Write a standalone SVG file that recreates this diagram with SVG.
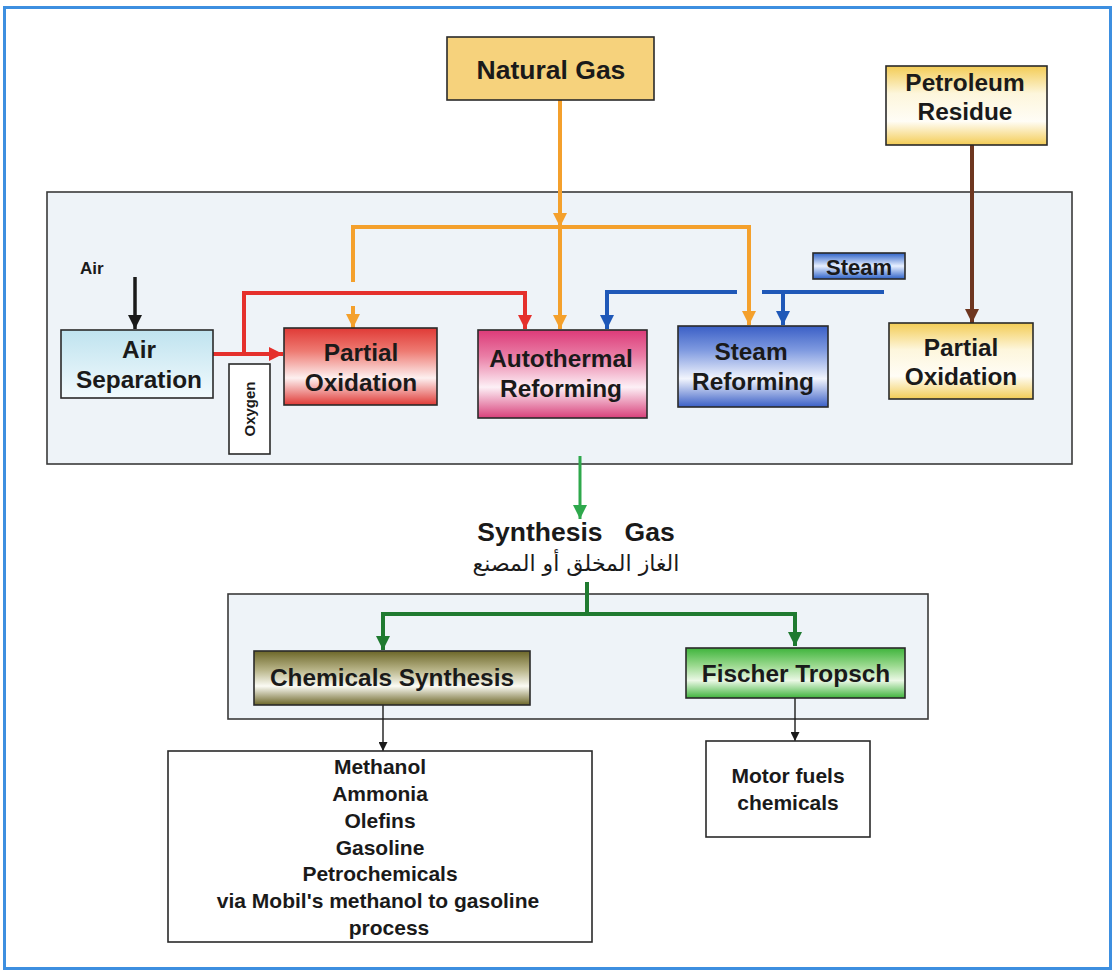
<svg xmlns="http://www.w3.org/2000/svg" width="1114" height="972" viewBox="0 0 1114 972">
  <defs>
    <style>
      text { font-family: "Liberation Sans", Arial, sans-serif; font-weight: bold; fill: #1a1a1a; }
      .lbl { font-size: 24.4px; text-anchor: middle; }
      .big { font-size: 26.5px; text-anchor: middle; }
      .lst { font-size: 21px; text-anchor: middle; }
      .box { stroke: #2a2a2a; stroke-width: 1.6; }
      .panel { fill: #eef3f8; stroke: #3a3a3a; stroke-width: 1.6; }
      .flow { fill: none; stroke-linejoin: miter; }
      .org { stroke: #f4a02c; stroke-width: 4; }
      .red { stroke: #e5302c; stroke-width: 4; }
      .blu { stroke: #1f58b8; stroke-width: 4; }
      .brn { stroke: #6e3620; stroke-width: 4; }
      .grn { stroke: #2ea84c; stroke-width: 3; }
      .dgr { stroke: #1f7a30; stroke-width: 4; }
      .blk { stroke: #1a1a1a; stroke-width: 3.5; }
      .thin { stroke: #1a1a1a; stroke-width: 1.4; }
    </style>
    <marker id="aOrg" markerUnits="userSpaceOnUse" markerWidth="14" markerHeight="14" refX="14" refY="7" orient="auto"><path d="M0,0 L14,7 L0,14 z" fill="#f4a02c"/></marker>
    <marker id="aRed" markerUnits="userSpaceOnUse" markerWidth="14" markerHeight="14" refX="14" refY="7" orient="auto"><path d="M0,0 L14,7 L0,14 z" fill="#e5302c"/></marker>
    <marker id="aBlu" markerUnits="userSpaceOnUse" markerWidth="14" markerHeight="14" refX="14" refY="7" orient="auto"><path d="M0,0 L14,7 L0,14 z" fill="#1f58b8"/></marker>
    <marker id="aBrn" markerUnits="userSpaceOnUse" markerWidth="14" markerHeight="14" refX="14" refY="7" orient="auto"><path d="M0,0 L14,7 L0,14 z" fill="#6e3620"/></marker>
    <marker id="aGrn" markerUnits="userSpaceOnUse" markerWidth="14" markerHeight="14" refX="14" refY="7" orient="auto"><path d="M0,0 L14,7 L0,14 z" fill="#2ea84c"/></marker>
    <marker id="aDgr" markerUnits="userSpaceOnUse" markerWidth="14" markerHeight="14" refX="14" refY="7" orient="auto"><path d="M0,0 L14,7 L0,14 z" fill="#1f7a30"/></marker>
    <marker id="aBlk" markerUnits="userSpaceOnUse" markerWidth="14" markerHeight="14" refX="14" refY="7" orient="auto"><path d="M0,0 L14,7 L0,14 z" fill="#1a1a1a"/></marker>
    <marker id="aThin" markerUnits="userSpaceOnUse" markerWidth="9" markerHeight="9" refX="9" refY="4.5" orient="auto"><path d="M0,0 L9,4.5 L0,9 z" fill="#1a1a1a"/></marker>

    <linearGradient id="gAir" x1="0" y1="0" x2="0" y2="1"><stop offset="0" stop-color="#bfe3ef"/><stop offset="1" stop-color="#f2fafd"/></linearGradient>
    <linearGradient id="gRed" x1="0" y1="0" x2="0" y2="1"><stop offset="0" stop-color="#e03a36"/><stop offset="0.3" stop-color="#ee7a72"/><stop offset="0.65" stop-color="#fdf0f0"/><stop offset="1" stop-color="#e03a36"/></linearGradient>
    <linearGradient id="gPnk" x1="0" y1="0" x2="0" y2="1"><stop offset="0" stop-color="#dc3a78"/><stop offset="0.3" stop-color="#ea7ea6"/><stop offset="0.65" stop-color="#fdf0f6"/><stop offset="1" stop-color="#d8407a"/></linearGradient>
    <linearGradient id="gBlu" x1="0" y1="0" x2="0" y2="1"><stop offset="0" stop-color="#3a5fc6"/><stop offset="0.3" stop-color="#7f9ae0"/><stop offset="0.65" stop-color="#f2f5fd"/><stop offset="1" stop-color="#3a5fc6"/></linearGradient>
    <linearGradient id="gYel" x1="0" y1="0" x2="0" y2="1"><stop offset="0" stop-color="#f3cc55"/><stop offset="0.35" stop-color="#fdf6dc"/><stop offset="0.7" stop-color="#fffdf6"/><stop offset="1" stop-color="#f3cc55"/></linearGradient>
    <linearGradient id="gStm" x1="0" y1="0" x2="0" y2="1"><stop offset="0" stop-color="#2e62c8"/><stop offset="0.5" stop-color="#e8f0ff"/><stop offset="1" stop-color="#2e62c8"/></linearGradient>
    <linearGradient id="gOlv" x1="0" y1="0" x2="0" y2="1"><stop offset="0" stop-color="#6c6628"/><stop offset="0.35" stop-color="#b8b488"/><stop offset="0.65" stop-color="#fbfbf4"/><stop offset="1" stop-color="#6c6628"/></linearGradient>
    <linearGradient id="gGrn" x1="0" y1="0" x2="0" y2="1"><stop offset="0" stop-color="#3fb43c"/><stop offset="0.35" stop-color="#9ad98e"/><stop offset="0.65" stop-color="#ebf8e6"/><stop offset="1" stop-color="#3fb43c"/></linearGradient>
  </defs>

  <!-- page -->
  <rect x="0" y="0" width="1114" height="972" fill="#ffffff"/>
  <rect x="4.5" y="7.5" width="1106" height="961" fill="none" stroke="#3d8fe0" stroke-width="3"/>

  <!-- panels -->
  <rect class="panel" x="47" y="192" width="1025" height="272"/>
  <rect class="panel" x="228" y="594" width="700" height="125"/>

  <!-- connectors -->
  <g id="connectors" class="flow">
    <!-- natural gas feed -->
    <path class="org" d="M560,100 V227" marker-end="url(#aOrg)"/>
    <path class="org" d="M560,227 V329" marker-end="url(#aOrg)"/>
    <path class="org" d="M353,282 V227 H749 V325" marker-end="url(#aOrg)"/>
    <path class="org" d="M353,306 V328" marker-end="url(#aOrg)"/>
    <!-- oxygen -->
    <path class="red" d="M213,354 H283" marker-end="url(#aRed)"/>
    <path class="red" d="M244,354 V293 H525 V329" marker-end="url(#aRed)"/>
    <!-- air -->
    <path class="blk" d="M135,277 V329" marker-end="url(#aBlk)"/>
    <!-- steam -->
    <path class="blu" d="M737,292 H607 V329" marker-end="url(#aBlu)"/>
    <path class="blu" d="M762,292 H884"/>
    <path class="blu" d="M783,292 V325" marker-end="url(#aBlu)"/>
    <!-- petroleum residue -->
    <path class="brn" d="M972,145 V323" marker-end="url(#aBrn)"/>
    <!-- synthesis gas -->
    <path class="grn" d="M580,456 V519" marker-end="url(#aGrn)"/>
    <path class="dgr" d="M587,582 V614"/>
    <path class="dgr" d="M383,650 V614 H795 V646" marker-end="url(#aDgr)"/>
    <path class="dgr" d="M383,614 V650" marker-end="url(#aDgr)"/>
    <!-- products -->
    <path class="thin" d="M383,705 V751" marker-end="url(#aThin)"/>
    <path class="thin" d="M795,698 V741" marker-end="url(#aThin)"/>
  </g>

  <g id="natural-gas">
    <rect class="box" x="447" y="37" width="207" height="63" fill="#f6d27c"/>
    <text class="big" x="551" y="79">Natural Gas</text>
  </g>

  <g id="petroleum-residue">
    <rect class="box" x="886" y="66" width="161" height="79" fill="url(#gYel)"/>
    <text class="lbl" x="965" y="91">Petroleum</text>
    <text class="lbl" x="965" y="120">Residue</text>
  </g>

  <g id="air-label">
    <text x="80" y="274" style="font-size:17px">Air</text>
  </g>

  <g id="air-separation">
    <rect class="box" x="61" y="330" width="152" height="68" fill="url(#gAir)"/>
    <text class="lbl" x="139" y="358">Air</text>
    <text class="lbl" x="139" y="388">Separation</text>
  </g>

  <g id="oxygen">
    <rect class="box" x="229" y="364" width="41" height="90" fill="#ffffff"/>
    <text x="255" y="409" transform="rotate(-90 255 409)" style="font-size:15px;text-anchor:middle">Oxygen</text>
  </g>

  <g id="partial-oxidation-gas">
    <rect class="box" x="284" y="328" width="153" height="77" fill="url(#gRed)"/>
    <text class="lbl" x="361" y="361">Partial</text>
    <text class="lbl" x="361" y="391">Oxidation</text>
  </g>

  <g id="autothermal-reforming">
    <rect class="box" x="478" y="330" width="169" height="88" fill="url(#gPnk)"/>
    <text class="lbl" x="561" y="367">Autothermal</text>
    <text class="lbl" x="561" y="397">Reforming</text>
  </g>

  <g id="steam-reforming">
    <rect class="box" x="678" y="326" width="150" height="81" fill="url(#gBlu)"/>
    <text class="lbl" x="751" y="360">Steam</text>
    <text class="lbl" x="753" y="390">Reforming</text>
  </g>

  <g id="steam-label">
    <rect class="box" x="813" y="253" width="92" height="26" fill="url(#gStm)"/>
    <text x="859" y="275" style="font-size:22px;text-anchor:middle">Steam</text>
  </g>

  <g id="partial-oxidation-residue">
    <rect class="box" x="889" y="323" width="144" height="76" fill="url(#gYel)"/>
    <text class="lbl" x="961" y="356">Partial</text>
    <text class="lbl" x="961" y="385">Oxidation</text>
  </g>

  <g id="synthesis-gas">
    <text x="576" y="541" xml:space="preserve" style="font-size:26.5px;text-anchor:middle">Synthesis   Gas</text>
    <text x="576" y="571" style="font-family:'DejaVu Sans','Noto Sans',sans-serif;font-weight:normal;font-size:22px;text-anchor:middle" direction="rtl">الغاز المخلق أو المصنع</text>
  </g>

  <g id="chemicals-synthesis">
    <rect class="box" x="254" y="651" width="276" height="54" fill="url(#gOlv)"/>
    <text class="lbl" x="392" y="686">Chemicals Synthesis</text>
  </g>

  <g id="fischer-tropsch">
    <rect class="box" x="686" y="648" width="219" height="50" fill="url(#gGrn)"/>
    <text class="lbl" x="796" y="682">Fischer Tropsch</text>
  </g>

  <g id="chemical-products">
    <rect class="box" x="168" y="751" width="424" height="191" fill="#ffffff"/>
    <text class="lst" x="380" y="774">Methanol</text>
    <text class="lst" x="380" y="801">Ammonia</text>
    <text class="lst" x="380" y="828">Olefins</text>
    <text class="lst" x="380" y="855">Gasoline</text>
    <text class="lst" x="380" y="881">Petrochemicals</text>
    <text class="lst" x="378" y="908">via Mobil's methanol to gasoline</text>
    <text class="lst" x="389" y="935">process</text>
  </g>

  <g id="fuel-products">
    <rect class="box" x="706" y="741" width="164" height="96" fill="#ffffff"/>
    <text class="lst" x="788" y="783">Motor fuels</text>
    <text class="lst" x="788" y="810">chemicals</text>
  </g>
</svg>
